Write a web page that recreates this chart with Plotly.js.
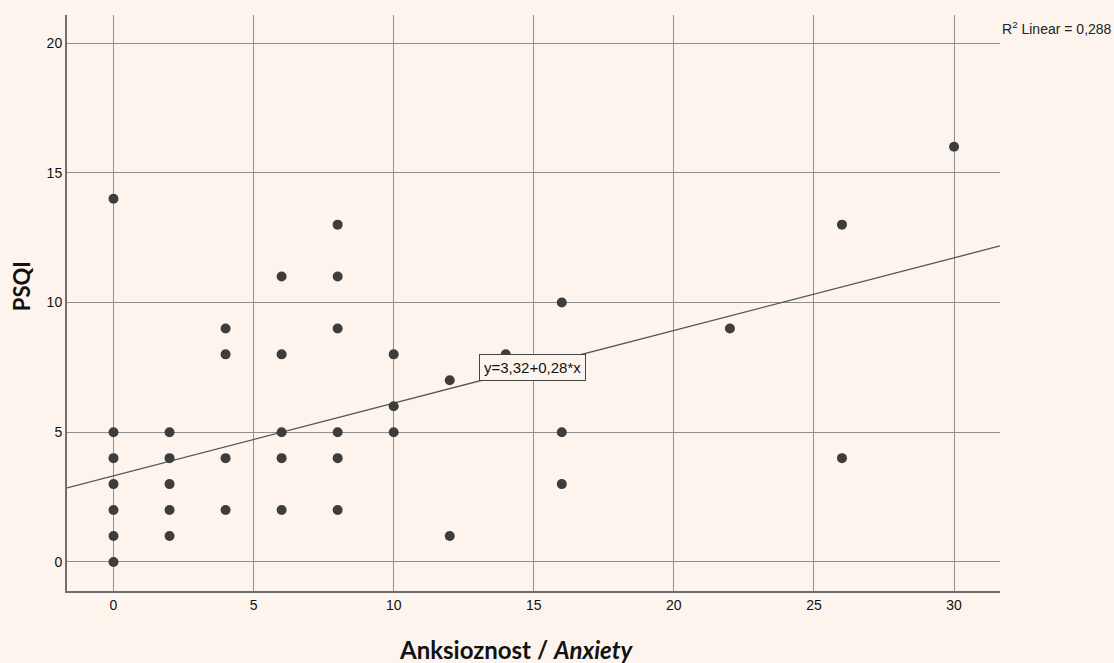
<!DOCTYPE html>
<html>
<head>
<meta charset="utf-8">
<script src="https://cdn.plot.ly/plotly-3.0.1.min.js"></script>
<style>html,body{margin:0;padding:0;background:#fdf5ed;}</style>
</head>
<body>
<div id="chart" style="width:1114px;height:663px;"></div>
<script>
const anxiety = [0,0,0,0,0,0,0, 2,2,2,2,2, 4,4,4,4, 6,6,6,6,6, 8,8,8,8,8,8, 10,10,10, 12,12, 14, 16,16,16, 22, 26,26, 30];
const psqi    = [14,5,4,3,2,1,0, 5,4,3,2,1, 9,8,4,2, 11,8,5,4,2, 13,11,9,5,4,2, 8,6,5, 7,1, 8, 10,5,3, 9, 13,4, 16];
const intercept = 3.32;
const slope = 0.28;
const xRange = [-1.66, 31.64];
const fitX = xRange;
const fitY = fitX.map(v => intercept + slope * v);
const xTicks = [0,5,10,15,20,25,30];
const yTicks = [0,5,10,15,20];
const xTitle = '<b>Anksioznost / <i>Anxiety</i></b>';
const yTitle = '<b>PSQI</b>';

const traces = [
  {x: fitX, y: fitY, mode: 'lines', type: 'scatter', line: {color: '#555555', width: 1.3}, hoverinfo: 'skip'},
  {x: anxiety, y: psqi, mode: 'markers', type: 'scatter', marker: {color: '#3d3d3d', size: 10}}
];

const titleFont = {family: 'Lato, Open Sans, sans-serif', size: 24, color: '#111'};

const layout = {
  width: 1114, height: 663,
  paper_bgcolor: '#fdf5ed', plot_bgcolor: '#fdf5ed',
  margin: {l: 67, r: 114, t: 15, b: 72},
  showlegend: false,
  font: {family: 'Liberation Sans, Arial, sans-serif', color: '#222'},
  xaxis: {
    range: xRange, tickvals: xTicks, ticks: '', showgrid: true, gridcolor: '#8f8f8f', gridwidth: 1,
    zeroline: false, showline: true, linecolor: '#6e6e6e', linewidth: 2,
    tickfont: {size: 14, color: '#111'}, ticklen: 0
  },
  yaxis: {
    range: [-1.12, 21.08], tickvals: yTicks, ticks: '', showgrid: true, gridcolor: '#8f8f8f', gridwidth: 1,
    zeroline: false, showline: true, linecolor: '#6e6e6e', linewidth: 2,
    tickfont: {size: 14, color: '#111'}
  },
  annotations: [
    {x: 14.97, y: 7.51, xref: 'x', yref: 'y', text: 'y=3,32+0,28*x', showarrow: false,
     font: {size: 15, color: '#111', family: 'Liberation Sans, Arial, sans-serif'},
     bgcolor: '#fdf5ed', bordercolor: '#444', borderwidth: 1, borderpad: 4},
    {x: 1, y: 1, xref: 'paper', yref: 'paper', xanchor: 'left', yanchor: 'top', xshift: 0, yshift: -2,
     text: 'R<sup>2</sup> Linear = 0,288', showarrow: false,
     font: {size: 14, color: '#222', family: 'Liberation Sans, Arial, sans-serif'}},
    {x: 0.4812, y: -0.1024, xref: 'paper', yref: 'paper', xanchor: 'center', yanchor: 'middle',
     text: xTitle, showarrow: false, font: titleFont},
    {x: -0.0488, y: 0.53, xref: 'paper', yref: 'paper', xanchor: 'center', yanchor: 'middle',
     text: yTitle, textangle: -90, showarrow: false, font: Object.assign({}, titleFont, {size: 22})}
  ]
};

Plotly.newPlot('chart', traces, layout, {displayModeBar: false, staticPlot: true});
</script>
</body>
</html>
